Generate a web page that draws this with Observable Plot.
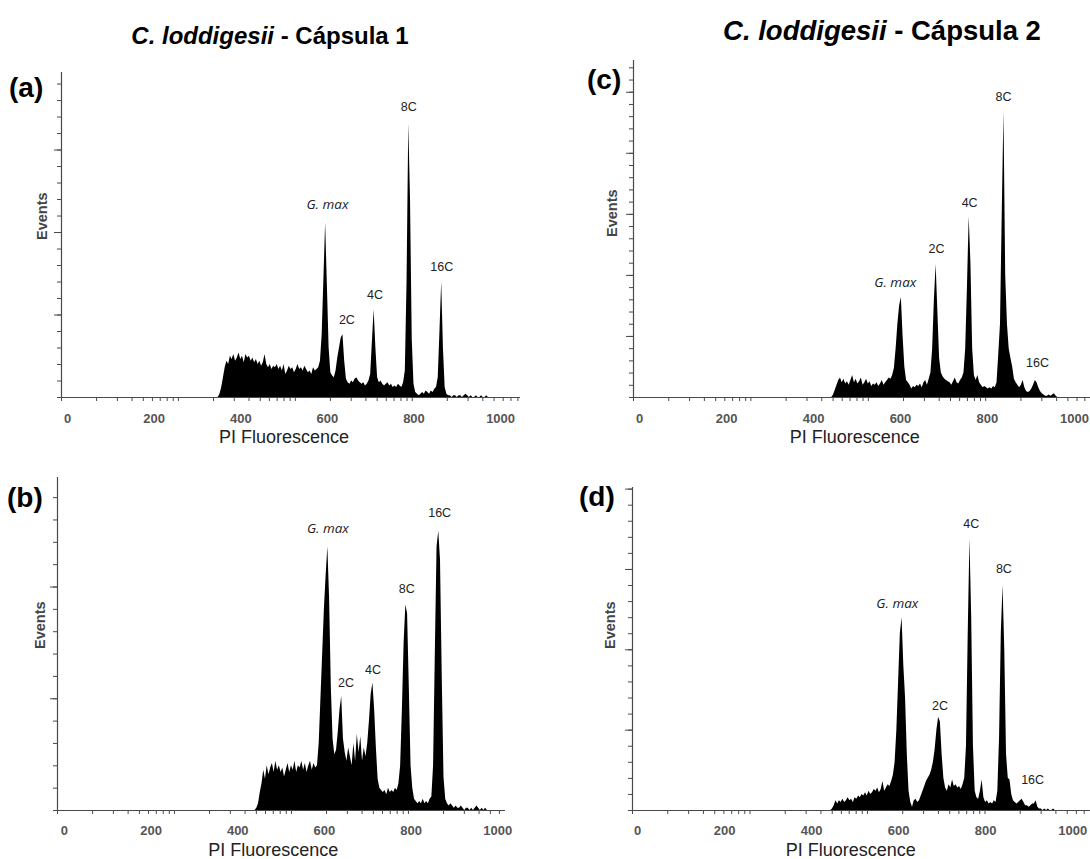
<!DOCTYPE html>
<html><head><meta charset="utf-8">
<script src="https://cdn.jsdelivr.net/npm/d3@7"></script>
<script src="https://cdn.jsdelivr.net/npm/@observablehq/plot@0.6"></script>
<style>
body{margin:0;background:#fff;}
#root{position:relative;width:1090px;height:859px;overflow:hidden;background:#fff;font-family:"Liberation Sans",Arial,sans-serif;}
.title{position:absolute;font-weight:bold;white-space:nowrap;line-height:1;transform:translate(-50%,-50%);font-family:"Liberation Sans",Arial,sans-serif;color:#000;}
.letter{position:absolute;font-weight:bold;font-size:28px;line-height:1;color:#000;}
.panel{position:absolute;}
</style></head><body><div id="root"></div>
<script>
// ---------- text ----------
const species = "C. loddigesii";
const capsules = ["Cápsula 1", "Cápsula 2"];
const panelLetters = ["(a)", "(b)", "(c)", "(d)"];
const xTitle = "PI Fluorescence";
const yTitle = "Events";
const tickLabels = [0, 200, 400, 600, 800, 1000];
const peakNames = ["G. max", "2C", "4C", "8C", "16C"];
// log-decade minor tick offsets (channels from the y axis)
const logTickOffsets = [0, 81, 129, 163, 189, 210, 228, 244, 258, 270,
  351, 399, 433, 459, 480, 498, 514, 528, 540,
  621, 669, 703, 729, 750, 768, 784, 798, 810,
  891, 939, 973, 999, 1020, 1038, 1054, 1068, 1080];
const binStep = 4;

// ---------- (a) Cápsula 1 ----------
const aStart = 348;
const aEvents = [
  0,2,6,12,18,22,20,25,23,26,
  22,24,27,23,25,21,26,24,25,22,
  24,21,23,20,22,19,21,26,20,18,
  20,17,19,18,20,17,19,16,20,14,
  16,19,17,18,15,17,20,17,18,16,
  19,17,15,16,14,18,16,17,18,22,
  38,72,106,68,30,15,13,12,16,24,
  30,36,38,22,11,9,8,10,9,11,
  12,10,9,8,9,7,8,10,14,34,
  53,30,12,9,10,8,7,8,9,7,
  8,6,7,6,8,7,6,9,16,70,
  166,120,35,8,3,2,1,2,3,2,
  4,3,2,4,3,5,6,12,40,70,
  30,6,2,1,1,0,1,1,0,1,
  1,0,1,2,1,0,1,0,0,1,
  0,0,1,0,0,1,0,0];
const aLabelX = [600, 645, 710, 788, 864];
const aLabelY = [117, 47, 62, 176, 79];

// ---------- (b) Cápsula 1 ----------
const bStart = 440;
const bEvents = [
  0,1,3,8,12,18,14,20,16,19,
  21,17,22,18,20,17,19,15,18,21,
  17,20,18,22,17,20,19,22,18,21,
  17,20,22,18,21,19,20,30,50,70,
  90,105,118,95,55,32,25,27,35,45,
  51,32,26,22,28,24,20,30,22,34,
  26,33,22,28,24,30,40,52,57,45,
  28,14,10,9,8,9,7,10,8,9,
  8,10,9,12,20,45,75,92,88,55,
  20,10,5,4,3,4,3,5,3,4,
  3,5,6,20,70,118,125,112,60,15,
  5,3,2,3,2,1,2,1,1,2,
  1,0,1,1,0,1,0,1,2,1,
  0,1,0,1,0];
const bLabelX = [608, 650, 712, 790, 866];
const bLabelY = [126, 57, 63, 99, 133];

// ---------- (c) Cápsula 2 ----------
const cStart = 442;
const cEvents = [
  0,2,6,10,14,16,12,15,11,13,
  10,14,18,12,15,11,13,16,10,12,
  15,11,13,9,11,10,12,9,11,14,
  10,12,14,16,15,18,24,40,60,75,
  82,50,25,14,12,10,7,9,8,10,
  9,11,8,12,14,10,15,20,40,80,
  109,70,32,20,17,15,14,13,12,10,
  13,16,12,11,14,16,20,40,90,148,
  110,40,18,14,18,12,10,8,9,8,
  7,8,7,9,8,12,35,60,150,234,
  100,60,40,32,25,15,12,10,8,10,
  14,8,5,4,5,7,10,14,12,8,
  5,3,2,1,1,2,1,2,3,1,
  0,0];
const cLabelX = [588, 683, 759, 837, 915];
const cLabelY = [94, 122, 159, 246, 28];

// ---------- (d) Cápsula 2 ----------
const dStart = 444;
const dEvents = [
  0,1,3,6,4,6,5,7,5,6,
  8,6,7,5,8,7,9,8,10,9,
  11,9,12,10,11,13,12,14,11,13,
  18,12,14,16,15,18,22,30,50,80,
  110,120,90,70,35,12,5,2,6,7,
  5,6,9,12,15,18,20,22,25,30,
  38,50,58,55,35,20,14,12,16,14,
  19,15,16,14,15,13,16,20,40,110,
  169,120,40,12,8,7,12,19,8,5,
  6,4,5,4,6,5,12,45,110,140,
  100,35,20,19,10,6,5,4,5,6,
  7,5,3,3,2,3,4,4,6,2,
  1,1,0,1,0,1,0,0,1,0];
const dLabelX = [597, 695, 767, 842, 908];
const dLabelY = [129, 65, 178, 150, 19];

// ---------- layout ----------
const panels = [
  {letter: panelLetters[0], start: aStart, events: aEvents, lx: aLabelX, ly: aLabelY,
   left: 0, top: 60, width: 540, height: 400, mL: 61, mR: 20, mT: 12, mB: 63,
   xDomain: [-14, 1046], yTop: 197, xTitleAt: 500, evDx: -19, evDy: 5, tickDy: 21,
   letterLeft: 9, letterTop: 74},
  {letter: panelLetters[1], start: bStart, events: bEvents, lx: bLabelX, ly: bLabelY,
   left: 0, top: 460, width: 540, height: 399, mL: 57, mR: 35, mT: 17, mB: 49,
   xDomain: [-16, 1018], yTop: 149, xTitleAt: 482, evDx: -17, evDy: 5, tickDy: 20,
   letterLeft: 7, letterTop: 484},
  {letter: panelLetters[2], start: cStart, events: cEvents, lx: cLabelX, ly: cLabelY,
   left: 545, top: 40, width: 545, height: 420, mL: 88, mR: 0, mT: 20, mB: 63,
   xDomain: [-14, 1037], yTop: 276, xTitleAt: 495, evDx: -21, evDy: 8, tickDy: 21,
   letterLeft: 587, letterTop: 66},
  {letter: panelLetters[3], start: dStart, events: dEvents, lx: dLabelX, ly: dLabelY,
   left: 545, top: 460, width: 545, height: 399, mL: 87, mR: 0, mT: 27, mB: 49,
   xDomain: [-11.5, 1041], yTop: 201, xTitleAt: 490, evDx: -22, evDy: 0, tickDy: 20,
   letterLeft: 579, letterTop: 483}
];

const root = document.getElementById("root");

// titles
[{cap: capsules[0], x: 270, y: 36, size: 24}, {cap: capsules[1], x: 882, y: 31, size: 27.5}].forEach(t => {
  const d = document.createElement("div");
  d.className = "title";
  d.style.left = t.x + "px"; d.style.top = t.y + "px"; d.style.fontSize = t.size + "px";
  const i = document.createElement("i"); i.textContent = species;
  d.appendChild(i);
  d.appendChild(document.createTextNode(" - " + t.cap));
  root.appendChild(d);
});

const axisColor = "#4a4a4a";

panels.forEach(p => {
  const hist = p.events.map((v, i) => ({x: p.start + i * binStep, y: v}));
  const labels = peakNames.map((n, i) => ({n, x: p.lx[i], y: p.ly[i]}));
  const xmin = p.xDomain[0];
  const logTicks = logTickOffsets.map(o => xmin + o).filter(v => v <= p.xDomain[1]);
  const minorY = d3.range(0, p.yTop, 10);
  const majorY = d3.range(50, p.yTop, 50);

  const chart = Plot.plot({
    width: p.width, height: p.height,
    marginLeft: p.mL, marginRight: p.mR, marginTop: p.mT, marginBottom: p.mB,
    x: {domain: p.xDomain},
    y: {domain: [0, p.yTop]},
    style: {fontFamily: "'Liberation Sans', Arial, sans-serif", background: "transparent", overflow: "visible"},
    marks: [
      Plot.areaY(hist, {x: "x", y: "y", fill: "#000", curve: "linear"}),
      Plot.ruleY([0], {stroke: axisColor, strokeWidth: 1.2}),
      Plot.ruleX([xmin], {stroke: axisColor, strokeWidth: 1.2}),
      Plot.axisY({ticks: minorY, tickSize: 4, tickFormat: () => "", label: null, stroke: axisColor}),
      Plot.axisY({ticks: majorY, tickSize: 7, tickFormat: () => "", label: null, stroke: axisColor}),
      Plot.axisX({ticks: logTicks, tickSize: 4, tickFormat: () => "", label: null, stroke: axisColor}),
      Plot.text(tickLabels, {x: d => d, y: () => 0, text: d => String(d), dy: p.tickDy,
        fontSize: 13, fontWeight: "bold", fill: "#555"}),
      Plot.text([{t: xTitle, x: p.xTitleAt}], {x: "x", y: () => 0, text: "t", dy: 40,
        fontSize: 18, fill: "#222"}),
      Plot.text([yTitle], {text: d => d, frameAnchor: "left", rotate: -90, dx: p.evDx, dy: p.evDy,
        fontSize: 14.5, fontWeight: "bold", fill: "#444"}),
      Plot.text(labels.filter(d => d.n === peakNames[0]), {x: "x", y: "y", text: "n",
        fontSize: 13.5, fontStyle: "italic", fontFamily: "'Open Sans', sans-serif", fill: "#222"}),
      Plot.text(labels.filter(d => d.n !== peakNames[0]), {x: "x", y: "y", text: "n",
        fontSize: 12.5, fill: "#222"})
    ]
  });
  chart.classList.add("panel");
  chart.style.left = p.left + "px";
  chart.style.top = p.top + "px";
  root.appendChild(chart);

  const l = document.createElement("div");
  l.className = "letter";
  l.textContent = p.letter;
  l.style.left = p.letterLeft + "px"; l.style.top = p.letterTop + "px";
  root.appendChild(l);
});
</script>
</body></html>
